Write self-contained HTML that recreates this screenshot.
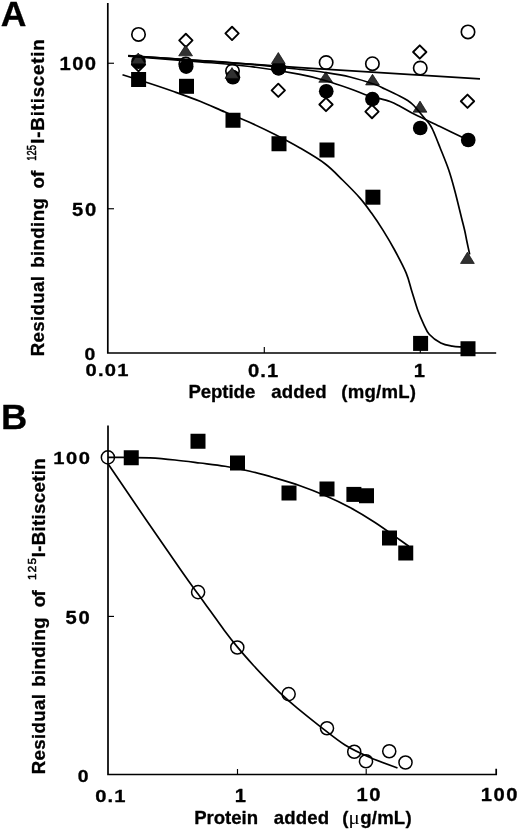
<!DOCTYPE html>
<html lang="en">
<head>
<meta charset="utf-8">
<title>Figure: Residual binding of 125I-Bitiscetin</title>
<style>
html,body{margin:0;padding:0;background:#fff;}
body{width:520px;height:832px;overflow:hidden;}
svg{display:block;}
text{fill:#000;}
</style>
</head>
<body>
<svg width="520" height="832" viewBox="0 0 520 832">
<rect x="0" y="0" width="520" height="832" fill="#fff"/>
<g id="panelA">
<path d="M107.8,3 V353.0 H496.2" fill="none" stroke="#000" stroke-width="1.7" stroke-linejoin="miter"/>
<path d="M107.8,63.25 H114" stroke="#000" stroke-width="1.15"/>
<path d="M107.8,208.75 H114" stroke="#000" stroke-width="1.15"/>
<path d="M264.3,353.0 V347" stroke="#000" stroke-width="1.15"/>
<path d="M420.3,353.0 V347" stroke="#000" stroke-width="1.15"/>
<circle cx="138.5" cy="34.4" r="6.7" fill="#fff" stroke="#000" stroke-width="1.65"/>
<circle cx="185.8" cy="64" r="6.7" fill="#fff" stroke="#000" stroke-width="1.65"/>
<circle cx="232.5" cy="71" r="6.7" fill="#fff" stroke="#000" stroke-width="1.65"/>
<circle cx="278.6" cy="68" r="6.7" fill="#fff" stroke="#000" stroke-width="1.65"/>
<circle cx="326.15" cy="62.5" r="6.7" fill="#fff" stroke="#000" stroke-width="1.65"/>
<circle cx="372.4" cy="63.7" r="6.7" fill="#fff" stroke="#000" stroke-width="1.65"/>
<circle cx="420.25" cy="68" r="6.7" fill="#fff" stroke="#000" stroke-width="1.65"/>
<circle cx="468" cy="31.9" r="6.7" fill="#fff" stroke="#000" stroke-width="1.65"/>
<path d="M138.50,58.05 L145.15,64.70 L138.50,71.35 L131.85,64.70 Z" fill="#fff" stroke="#000" stroke-width="1.9" stroke-linejoin="round"/>
<path d="M185.85,33.75 L192.50,40.40 L185.85,47.05 L179.20,40.40 Z" fill="#fff" stroke="#000" stroke-width="1.9" stroke-linejoin="round"/>
<path d="M232.05,26.75 L238.70,33.40 L232.05,40.05 L225.40,33.40 Z" fill="#fff" stroke="#000" stroke-width="1.9" stroke-linejoin="round"/>
<path d="M278.30,83.65 L284.95,90.30 L278.30,96.95 L271.65,90.30 Z" fill="#fff" stroke="#000" stroke-width="1.9" stroke-linejoin="round"/>
<path d="M326.00,97.85 L332.65,104.50 L326.00,111.15 L319.35,104.50 Z" fill="#fff" stroke="#000" stroke-width="1.9" stroke-linejoin="round"/>
<path d="M372.00,104.95 L378.65,111.60 L372.00,118.25 L365.35,111.60 Z" fill="#fff" stroke="#000" stroke-width="1.9" stroke-linejoin="round"/>
<path d="M419.75,45.35 L426.40,52.00 L419.75,58.65 L413.10,52.00 Z" fill="#fff" stroke="#000" stroke-width="1.9" stroke-linejoin="round"/>
<path d="M467.50,94.60 L474.15,101.25 L467.50,107.90 L460.85,101.25 Z" fill="#fff" stroke="#000" stroke-width="1.9" stroke-linejoin="round"/>
<circle cx="138.5" cy="61.7" r="7.35" fill="#000"/>
<circle cx="186.2" cy="66.6" r="7.35" fill="#000"/>
<circle cx="232.9" cy="77.2" r="7.35" fill="#000"/>
<circle cx="278.6" cy="68.2" r="7.35" fill="#000"/>
<circle cx="326.25" cy="91.25" r="7.35" fill="#000"/>
<circle cx="372.4" cy="99.1" r="7.35" fill="#000"/>
<circle cx="420.25" cy="128" r="7.35" fill="#000"/>
<circle cx="468.25" cy="140" r="7.35" fill="#000"/>
<path d="M138.20,53.00 L145.10,63.85 L131.30,63.85 Z" fill="#303030" stroke="#0a0a0a" stroke-width="0.7" stroke-linejoin="round"/>
<path d="M185.60,45.10 L192.50,55.85 L178.70,55.85 Z" fill="#303030" stroke="#0a0a0a" stroke-width="0.7" stroke-linejoin="round"/>
<path d="M232.00,67.60 L238.90,78.45 L225.10,78.45 Z" fill="#303030" stroke="#0a0a0a" stroke-width="0.7" stroke-linejoin="round"/>
<path d="M278.30,52.50 L285.20,63.55 L271.40,63.55 Z" fill="#303030" stroke="#0a0a0a" stroke-width="0.7" stroke-linejoin="round"/>
<path d="M325.70,71.90 L332.60,82.25 L318.80,82.25 Z" fill="#303030" stroke="#0a0a0a" stroke-width="0.7" stroke-linejoin="round"/>
<path d="M372.50,74.35 L379.40,84.95 L365.60,84.95 Z" fill="#303030" stroke="#0a0a0a" stroke-width="0.7" stroke-linejoin="round"/>
<path d="M420.00,101.10 L426.90,112.15 L413.10,112.15 Z" fill="#303030" stroke="#0a0a0a" stroke-width="0.7" stroke-linejoin="round"/>
<path d="M467.40,252.20 L474.30,263.45 L460.50,263.45 Z" fill="#303030" stroke="#0a0a0a" stroke-width="0.7" stroke-linejoin="round"/>
<rect x="131.10" y="72.00" width="15" height="15" fill="#000"/>
<rect x="179.00" y="78.80" width="15" height="15" fill="#000"/>
<rect x="225.50" y="112.75" width="15" height="15" fill="#000"/>
<rect x="271.50" y="136.25" width="15" height="15" fill="#000"/>
<rect x="319.50" y="142.50" width="15" height="15" fill="#000"/>
<rect x="365.40" y="189.70" width="15" height="15" fill="#000"/>
<rect x="413.10" y="335.90" width="15" height="15" fill="#000"/>
<rect x="460.50" y="341.25" width="15" height="15" fill="#000"/>
<path d="M128.2,55.6 L300,67.7 L480,78.9" fill="none" stroke="#000" stroke-width="1.7"/>
<path d="M128.20,56.20 C140.17,57.13 179.70,60.08 200.00,61.80 C220.30,63.52 233.33,64.42 250.00,66.50 C266.67,68.58 287.50,71.97 300.00,74.30 C312.50,76.63 316.67,78.10 325.00,80.50 C333.33,82.90 343.27,86.33 350.00,88.70 C356.73,91.07 361.23,93.27 365.40,94.70 C369.57,96.13 370.90,96.17 375.00,97.30 C379.10,98.43 385.83,100.02 390.00,101.50 C394.17,102.98 395.83,104.02 400.00,106.20 C404.17,108.38 408.33,111.22 415.00,114.60 C421.67,117.98 431.17,122.27 440.00,126.50 C448.83,130.73 463.33,137.75 468.00,140.00" fill="none" stroke="#000" stroke-width="1.7"/>
<path d="M128.20,55.80 C140.17,56.58 179.70,59.10 200.00,60.50 C220.30,61.90 233.33,62.72 250.00,64.20 C266.67,65.68 287.50,68.02 300.00,69.40 C312.50,70.78 316.67,71.23 325.00,72.50 C333.33,73.77 341.67,75.00 350.00,77.00 C358.33,79.00 369.17,82.50 375.00,84.50 C380.83,86.50 380.83,87.05 385.00,89.00 C389.17,90.95 396.22,94.28 400.00,96.20 C403.78,98.12 405.40,98.95 407.70,100.50 C410.00,102.05 411.75,103.45 413.80,105.50 C415.85,107.55 418.20,110.68 420.00,112.80 C421.80,114.92 423.18,116.53 424.60,118.20 C426.02,119.87 427.22,121.02 428.50,122.80 C429.78,124.58 430.90,126.08 432.30,128.90 C433.70,131.72 435.62,136.60 436.90,139.70 C438.18,142.80 438.02,142.45 440.00,147.50 C441.98,152.55 446.32,162.92 448.75,170.00 C451.18,177.08 452.48,182.05 454.60,190.00 C456.73,197.95 459.80,210.87 461.50,217.70 C463.20,224.53 463.92,227.12 464.80,231.00 C465.68,234.88 465.98,237.08 466.80,241.00 C467.62,244.92 469.22,252.25 469.70,254.50" fill="none" stroke="#000" stroke-width="1.7"/>
<path d="M122.50,74.70 C127.08,76.17 141.25,80.62 150.00,83.50 C158.75,86.38 166.67,89.04 175.00,92.00 C183.33,94.96 191.67,97.92 200.00,101.25 C208.33,104.58 216.67,108.46 225.00,112.00 C233.33,115.54 241.67,118.75 250.00,122.50 C258.33,126.25 266.67,130.25 275.00,134.50 C283.33,138.75 291.67,143.12 300.00,148.00 C308.33,152.88 317.92,158.42 325.00,163.75 C332.08,169.08 336.67,174.28 342.50,180.00 C348.33,185.72 355.17,192.58 360.00,198.10 C364.83,203.62 367.65,207.72 371.50,213.10 C375.35,218.48 379.25,224.25 383.10,230.40 C386.95,236.55 390.75,242.88 394.60,250.00 C398.45,257.12 403.32,266.18 406.20,273.10 C409.08,280.02 409.98,285.35 411.90,291.50 C413.82,297.65 415.77,304.62 417.70,310.00 C419.63,315.38 421.58,319.77 423.50,323.80 C425.42,327.83 426.32,331.00 429.20,334.20 C432.08,337.40 436.95,341.00 440.80,343.00 C444.65,345.00 448.85,345.55 452.30,346.20 C455.75,346.85 459.97,346.78 461.50,346.90" fill="none" stroke="#000" stroke-width="1.7"/>
<text transform="translate(0.66,25.85) scale(0.988,0.978)" font-family="'Liberation Sans',sans-serif" font-weight="bold" font-size="36" letter-spacing="0" stroke="#000" stroke-width="0.3" stroke-linejoin="round">A</text>
<text transform="translate(59.49,69.95) scale(1.160,1.004)" font-family="'Liberation Sans',sans-serif" font-weight="bold" font-size="17.4" letter-spacing="1.27" stroke="#000" stroke-width="0.3" stroke-linejoin="round">100</text>
<text transform="translate(72.07,215.84) scale(1.160,1.029)" font-family="'Liberation Sans',sans-serif" font-weight="bold" font-size="17.4" letter-spacing="1.53" stroke="#000" stroke-width="0.3" stroke-linejoin="round">50</text>
<text transform="translate(84.56,359.96) scale(1.115,0.955)" font-family="'Liberation Sans',sans-serif" font-weight="bold" font-size="17.4" letter-spacing="0" stroke="#000" stroke-width="0.3" stroke-linejoin="round">0</text>
<text transform="translate(85.53,376.26) scale(1.160,0.955)" font-family="'Liberation Sans',sans-serif" font-weight="bold" font-size="17.4" letter-spacing="1.05" stroke="#000" stroke-width="0.3" stroke-linejoin="round">0.01</text>
<text transform="translate(248.03,376.85) scale(1.160,1.004)" font-family="'Liberation Sans',sans-serif" font-weight="bold" font-size="17.4" letter-spacing="0.95" stroke="#000" stroke-width="0.3" stroke-linejoin="round">0.1</text>
<text transform="translate(413.64,376.50) scale(1.160,1.029)" font-family="'Liberation Sans',sans-serif" font-weight="bold" font-size="17.4" letter-spacing="0" stroke="#000" stroke-width="0.3" stroke-linejoin="round">1</text>
<text y="398.0" font-family="'Liberation Sans',sans-serif" font-weight="bold" font-size="18.6" stroke="#000" stroke-width="0.3" stroke-linejoin="round"><tspan x="188.40" letter-spacing="-0.05">Peptide</tspan> <tspan x="271.15" letter-spacing="0.18">added</tspan> <tspan x="341.30" letter-spacing="0.22">(mg/mL)</tspan></text>
<text transform="translate(44.3,355.4) rotate(-90)" font-family="'Liberation Sans',sans-serif" font-weight="bold" font-size="18.7" stroke="#000" stroke-width="0.3" stroke-linejoin="round"><tspan x="-0.85" letter-spacing="0.34">Residual</tspan> <tspan x="87.55" letter-spacing="0.37">binding</tspan> <tspan x="166.95" letter-spacing="0.1">of</tspan> <tspan x="194.78" dy="-8.80" font-size="12.8" font-weight="normal" stroke-width="0.55" textLength="15.46" lengthAdjust="spacingAndGlyphs">125</tspan><tspan x="211.75" dy="8.80" letter-spacing="0.8">I-Bitiscetin</tspan></text>
</g>
<g id="panelB">
<path d="M108.0,425.5 V774.5 H496.2 V768.8" fill="none" stroke="#000" stroke-width="1.7" stroke-linejoin="miter"/>
<path d="M108.0,616.4 H114" stroke="#000" stroke-width="1.15"/>
<path d="M237.5,774.5 V769" stroke="#000" stroke-width="1.15"/>
<path d="M366.2,774.5 V769" stroke="#000" stroke-width="1.15"/>
<path d="M108.00,457.40 C111.83,457.42 124.00,457.42 131.00,457.50 C138.00,457.58 142.67,457.48 150.00,457.90 C157.33,458.32 166.67,459.15 175.00,460.00 C183.33,460.85 191.67,461.96 200.00,463.00 C208.33,464.04 216.67,464.88 225.00,466.25 C233.33,467.62 241.67,469.29 250.00,471.25 C258.33,473.21 266.67,475.58 275.00,478.00 C283.33,480.42 291.67,482.83 300.00,485.75 C308.33,488.67 316.67,491.88 325.00,495.50 C333.33,499.12 341.67,503.00 350.00,507.50 C358.33,512.00 366.67,517.08 375.00,522.50 C383.33,527.92 394.38,536.04 400.00,540.00 C405.62,543.96 407.29,545.21 408.75,546.25" fill="none" stroke="#000" stroke-width="1.7"/>
<path d="M108.15,464.10 C114.50,473.42 133.97,502.12 146.25,520.00 C158.53,537.88 173.21,559.05 181.85,571.40 C190.49,583.75 193.22,587.33 198.10,594.10 C202.97,600.87 206.75,605.98 211.10,612.00 C215.45,618.02 219.77,624.30 224.20,630.20 C228.63,636.10 232.88,641.60 237.70,647.40 C242.52,653.20 247.97,659.35 253.10,665.00 C258.23,670.65 263.70,676.35 268.50,681.30 C273.30,686.25 277.10,690.22 281.90,694.70 C286.70,699.18 290.95,702.93 297.30,708.20 C303.65,713.47 312.05,720.17 320.00,726.30 C327.95,732.43 336.67,739.80 345.00,745.00 C353.33,750.20 361.25,753.67 370.00,757.50 C378.75,761.33 392.92,766.25 397.50,768.00" fill="none" stroke="#000" stroke-width="1.7"/>
<circle cx="107.9" cy="457.4" r="6.55" fill="none" stroke="#000" stroke-width="1.5"/>
<circle cx="198.1" cy="592.1" r="6.55" fill="none" stroke="#000" stroke-width="1.5"/>
<circle cx="237.3" cy="647.5" r="6.55" fill="none" stroke="#000" stroke-width="1.5"/>
<circle cx="288.65" cy="694.1" r="6.55" fill="none" stroke="#000" stroke-width="1.5"/>
<circle cx="327" cy="728.25" r="6.55" fill="none" stroke="#000" stroke-width="1.5"/>
<circle cx="354.25" cy="751.75" r="6.55" fill="none" stroke="#000" stroke-width="1.5"/>
<circle cx="366" cy="761.25" r="6.55" fill="none" stroke="#000" stroke-width="1.5"/>
<circle cx="389.25" cy="751.25" r="6.55" fill="none" stroke="#000" stroke-width="1.5"/>
<circle cx="405.5" cy="762.5" r="6.55" fill="none" stroke="#000" stroke-width="1.5"/>
<rect x="123.75" y="450.25" width="15" height="15" fill="#000"/>
<rect x="190.50" y="433.75" width="15" height="15" fill="#000"/>
<rect x="230.00" y="455.50" width="15" height="15" fill="#000"/>
<rect x="281.50" y="485.50" width="15" height="15" fill="#000"/>
<rect x="319.50" y="481.50" width="15" height="15" fill="#000"/>
<rect x="346.40" y="486.90" width="15" height="15" fill="#000"/>
<rect x="359.00" y="488.25" width="15" height="15" fill="#000"/>
<rect x="382.00" y="530.50" width="15" height="15" fill="#000"/>
<rect x="398.25" y="545.50" width="15" height="15" fill="#000"/>
<text transform="translate(0.88,428.85) scale(1.009,0.978)" font-family="'Liberation Sans',sans-serif" font-weight="bold" font-size="36" letter-spacing="0" stroke="#000" stroke-width="0.3" stroke-linejoin="round">B</text>
<text transform="translate(53.24,464.10) scale(1.160,0.984)" font-family="'Liberation Sans',sans-serif" font-weight="bold" font-size="17.4" letter-spacing="1.29" stroke="#000" stroke-width="0.3" stroke-linejoin="round">100</text>
<text transform="translate(65.42,623.54) scale(1.160,1.029)" font-family="'Liberation Sans',sans-serif" font-weight="bold" font-size="17.4" letter-spacing="1.58" stroke="#000" stroke-width="0.3" stroke-linejoin="round">50</text>
<text transform="translate(77.66,781.86) scale(1.115,0.976)" font-family="'Liberation Sans',sans-serif" font-weight="bold" font-size="17.4" letter-spacing="0" stroke="#000" stroke-width="0.3" stroke-linejoin="round">0</text>
<text transform="translate(95.13,801.60) scale(1.160,0.984)" font-family="'Liberation Sans',sans-serif" font-weight="bold" font-size="17.4" letter-spacing="1.01" stroke="#000" stroke-width="0.3" stroke-linejoin="round">0.1</text>
<text transform="translate(234.64,801.50) scale(1.160,1.029)" font-family="'Liberation Sans',sans-serif" font-weight="bold" font-size="17.4" letter-spacing="0" stroke="#000" stroke-width="0.3" stroke-linejoin="round">1</text>
<text transform="translate(356.49,801.25) scale(1.160,1.008)" font-family="'Liberation Sans',sans-serif" font-weight="bold" font-size="17.4" letter-spacing="1.39" stroke="#000" stroke-width="0.3" stroke-linejoin="round">10</text>
<text transform="translate(480.84,801.25) scale(1.160,1.008)" font-family="'Liberation Sans',sans-serif" font-weight="bold" font-size="17.4" letter-spacing="1.25" stroke="#000" stroke-width="0.3" stroke-linejoin="round">100</text>
<text y="824.2" font-family="'Liberation Sans',sans-serif" font-weight="bold" font-size="18.6" stroke="#000" stroke-width="0.3" stroke-linejoin="round"><tspan x="194.15" letter-spacing="-0.01">Protein</tspan> <tspan x="273.65" letter-spacing="0.18">added</tspan> <tspan x="342.20" letter-spacing="0">(</tspan><tspan x="348.42" font-family="'Liberation Serif','DejaVu Serif',serif" font-weight="normal" stroke-width="0" textLength="11.19" lengthAdjust="spacingAndGlyphs">μ</tspan><tspan x="360.25" letter-spacing="0.18">g/mL)</tspan></text>
<text transform="translate(45.3,773.4) rotate(-90)" font-family="'Liberation Sans',sans-serif" font-weight="bold" font-size="18.7" stroke="#000" stroke-width="0.3" stroke-linejoin="round"><tspan x="-0.85" letter-spacing="0.34">Residual</tspan> <tspan x="86.65" letter-spacing="0.31">binding</tspan> <tspan x="166.05" letter-spacing="-0.6">of</tspan> <tspan x="193.50" dy="-9.70" font-size="11.6" font-weight="normal" stroke-width="0.55" letter-spacing="1.25">125</tspan><tspan x="216.15" dy="9.70" letter-spacing="0.3">I-Bitiscetin</tspan></text>
</g>
</svg>
</body>
</html>
